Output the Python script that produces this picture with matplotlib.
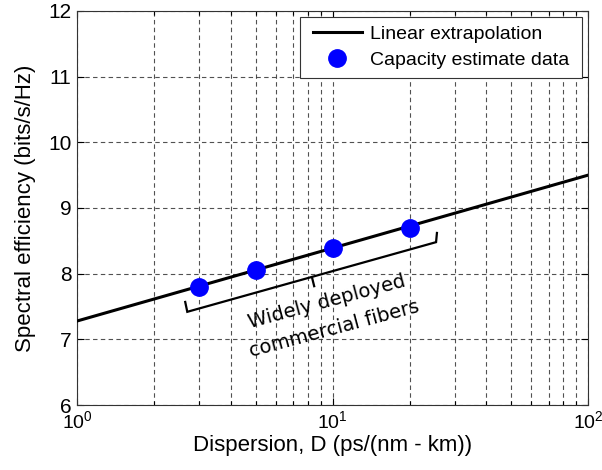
import numpy as np
import matplotlib
matplotlib.use("Agg")
import matplotlib.pyplot as plt
from matplotlib.patches import Rectangle
from matplotlib.ticker import LogLocator, NullFormatter

# Linear extrapolation (spectral efficiency vs. log10 dispersion)
fit_D = [1, 100]
fit_se = [7.28, 9.50]

# Capacity estimates for commercial fiber dispersions
data_D = [3, 5, 10, 20]
data_se = [7.80, 8.05, 8.39, 8.70]

y_ticks = [6, 7, 8, 9, 10, 11, 12]

plt.rcParams["font.family"] = ["Liberation Sans", "DejaVu Sans"]
plt.rcParams["mathtext.fontset"] = "custom"
plt.rcParams["mathtext.rm"] = "Liberation Sans"
plt.rcParams["mathtext.it"] = "Liberation Sans:italic"

fig = plt.figure(figsize=(6.02, 4.70), dpi=100)
ax = fig.add_axes([0.128, 0.138, 0.849, 0.839])

ax.plot(fit_D, fit_se, color="black", lw=2.2, label="Linear extrapolation", zorder=3)
ax.plot(data_D, data_se, "o", color="#0000ff", ms=12.5, mec="#0000ff",
        label="Capacity estimate data", zorder=4)

ax.set_xscale("log")
ax.set_xlim(1, 100)
ax.set_ylim(6, 12)
ax.set_yticks(y_ticks)
ax.xaxis.set_major_locator(LogLocator(base=10))
ax.xaxis.set_minor_locator(LogLocator(base=10, subs=np.arange(2, 10)))
ax.xaxis.set_minor_formatter(NullFormatter())

grid_kw = dict(color="#333333", ls=(0, (4, 3)), lw=0.8, alpha=0.85)
ax.grid(True, which="major", axis="both", **grid_kw)
ax.grid(True, which="minor", axis="x", **grid_kw)

ax.tick_params(which="both", direction="in", top=True, right=True)
ax.tick_params(axis="y", labelsize=15, pad=4)
ax.tick_params(axis="x", labelsize=14, pad=4)
ax.tick_params(which="major", length=5, width=0.8)
ax.tick_params(which="minor", length=3, width=0.8)
for s in ax.spines.values():
    s.set_linewidth(0.8)
    s.set_color("#333333")

ax.set_xlabel("Dispersion, D (ps/(nm - km))", fontsize=16, labelpad=2)
ax.set_ylabel("Spectral efficiency (bits/s/Hz)", fontsize=16, labelpad=9)

# Legend with a separately drawn frame (wider side padding)
frame = Rectangle((0.436, 0.830), 0.552, 0.155, transform=ax.transAxes,
                  facecolor="white", edgecolor="#333333", lw=0.8, zorder=5)
ax.add_patch(frame)
leg = ax.legend(loc="center", bbox_to_anchor=(0.712, 0.9075), fontsize=14,
                frameon=False, borderpad=0, handlelength=2.5,
                handletextpad=0.4, labelspacing=0.45)
leg.set_zorder(6)

# Bracket marking the range of widely deployed fibers
bx = [2.65, 2.70, 25.4, 25.6]
by = [7.57, 7.42, 8.48, 8.62]
ax.plot(bx, by, color="black", lw=1.6, zorder=3, solid_joinstyle="miter")
ax.plot([8.31, 8.47], [7.94, 7.81], color="black", lw=1.6, zorder=3)

ax.text(9.78, 7.37, "Widely deployed\ncommercial fibers", rotation=15,
        rotation_mode="anchor", ha="center", va="center", fontsize=14,
        family="DejaVu Sans", color="black", linespacing=1.6)

fig.savefig("out.png", dpi=100)
